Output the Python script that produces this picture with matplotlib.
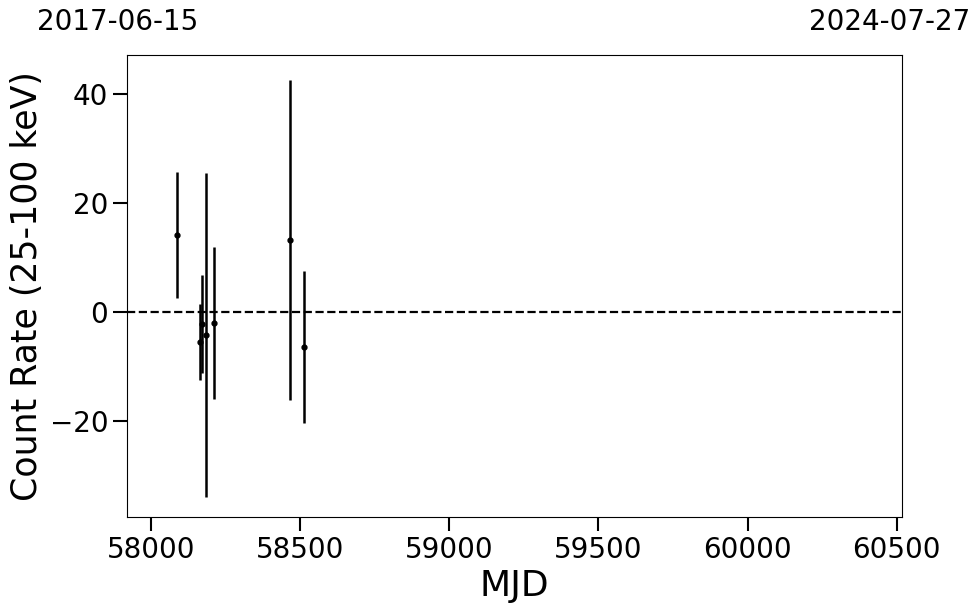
import numpy as np
import matplotlib
matplotlib.use("Agg")
import matplotlib.pyplot as plt

# Light curve points
mjd = [58087, 58164, 58171, 58184, 58212, 58464, 58511]
rate = [14.1, -5.5, -2.2, -4.2, -2.0, 13.2, -6.4]
rate_err = [11.6, 7.0, 9.0, 29.7, 14.0, 29.4, 13.9]

mjd_start, mjd_end = 57919, 60518
date_start, date_end = "2017-06-15", "2024-07-27"

fig = plt.figure(figsize=(9.8, 6.13), dpi=100)
ax = fig.add_axes([0.1296, 0.157, 0.7908, 0.753])

ax.errorbar(mjd, rate, yerr=rate_err, fmt="o", color="black",
            markersize=3.5, elinewidth=1.8, capsize=0)
ax.axhline(0, color="black", linestyle="--", linewidth=1.6)

ax.set_xlim(mjd_start, mjd_end)
ax.set_ylim(-37.6, 47.2)
ax.set_xticks([58000, 58500, 59000, 59500, 60000, 60500])
ax.set_yticks([-20, 0, 20, 40])
ax.tick_params(axis="both", which="major", labelsize=20, length=10, width=1.5)

ax.set_xlabel("MJD", fontsize=26)
ax.set_ylabel("Count Rate (25-100 keV)", fontsize=25)

# Date labels at the ends of the MJD range
fig.text(118 / 980, 1 - 22 / 613, date_start, fontsize=20, ha="center", va="center")
fig.text(890 / 980, 1 - 22 / 613, date_end, fontsize=20, ha="center", va="center")

fig.savefig("out.png", dpi=100)
